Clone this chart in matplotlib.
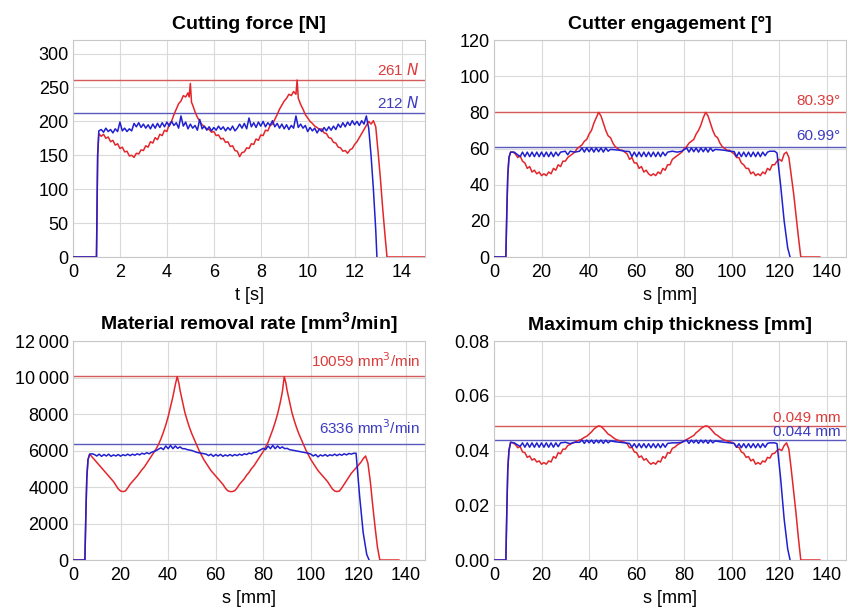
import matplotlib
matplotlib.use("Agg")
import matplotlib.pyplot as plt

plt.rcParams['font.family'] = ['Liberation Sans', 'DejaVu Sans']

# ---- Cutting force [N] over t [s] ----
force_red = [(0, 0), (1.0, 0), (1.05, 150), (1.1, 182), (1.2, 178), (1.3, 181), (1.4, 175), (1.5, 177), (1.6, 170),
             (1.7, 172), (1.8, 165), (1.9, 167), (2.0, 160), (2.1, 162), (2.2, 155), (2.3, 156), (2.4, 149), (2.5, 150),
             (2.6, 147), (2.7, 153), (2.8, 152), (2.9, 158), (3.0, 157), (3.1, 164), (3.2, 162), (3.3, 170), (3.4, 168),
             (3.5, 176), (3.6, 173), (3.7, 181), (3.8, 179), (3.9, 187), (4.0, 185), (4.1, 196), (4.2, 200), (4.3, 210),
             (4.4, 218), (4.5, 226), (4.6, 230), (4.7, 238), (4.8, 236), (4.9, 242), (4.95, 236), (5.0, 256), (5.05, 228),
             (5.1, 224), (5.2, 214), (5.3, 206), (5.4, 200), (5.5, 195), (5.6, 192), (5.7, 189), (5.8, 188), (5.9, 184),
             (6.0, 185), (6.1, 179), (6.2, 180), (6.3, 174), (6.4, 175), (6.5, 169), (6.6, 170), (6.7, 163), (6.8, 164),
             (6.9, 157), (7.0, 156), (7.1, 148), (7.2, 154), (7.3, 155), (7.4, 161), (7.5, 160), (7.6, 167), (7.7, 166),
             (7.8, 174), (7.9, 172), (8.0, 180), (8.1, 179), (8.2, 187), (8.3, 186), (8.4, 194), (8.5, 196), (8.6, 203),
             (8.7, 210), (8.8, 218), (8.9, 224), (9.0, 230), (9.1, 234), (9.2, 240), (9.3, 238), (9.4, 244), (9.5, 240),
             (9.55, 261), (9.6, 234), (9.7, 225), (9.8, 218), (9.9, 210), (10.0, 205), (10.1, 200), (10.2, 197),
             (10.3, 193), (10.4, 191), (10.5, 188), (10.6, 189), (10.7, 183), (10.8, 182), (10.9, 176), (11.0, 175),
             (11.1, 169), (11.2, 168), (11.3, 162), (11.4, 161), (11.5, 156), (11.6, 157), (11.7, 153), (11.8, 158),
             (11.9, 160), (12.0, 166), (12.1, 170), (12.2, 176), (12.3, 182), (12.4, 188), (12.5, 194), (12.6, 200),
             (12.7, 196), (12.8, 201), (12.9, 192), (13.0, 155), (13.1, 115), (13.2, 70), (13.3, 30), (13.38, 0), (15, 0)]
force_blue = [(0, 0), (1.0, 0), (1.05, 150), (1.1, 186), (1.2, 188), (1.3, 184), (1.4, 190), (1.5, 185), (1.6, 188),
              (1.7, 183), (1.8, 189), (1.9, 185), (2.0, 199), (2.1, 186), (2.2, 190), (2.3, 185), (2.4, 189), (2.5, 186),
              (2.6, 197), (2.7, 192), (2.8, 198), (2.9, 191), (3.0, 196), (3.1, 190), (3.2, 195), (3.3, 189), (3.4, 196),
              (3.5, 190), (3.6, 197), (3.7, 191), (3.8, 198), (3.9, 192), (4.0, 199), (4.1, 193), (4.2, 200), (4.3, 194),
              (4.4, 198), (4.5, 190), (4.6, 208), (4.7, 193), (4.8, 199), (4.9, 189), (5.0, 196), (5.1, 190), (5.2, 194),
              (5.3, 187), (5.4, 203), (5.5, 189), (5.6, 193), (5.7, 187), (5.8, 192), (5.9, 186), (6.0, 191), (6.1, 187),
              (6.2, 193), (6.3, 188), (6.4, 192), (6.5, 186), (6.6, 191), (6.7, 187), (6.8, 193), (6.9, 186), (7.0, 190),
              (7.1, 196), (7.2, 190), (7.3, 197), (7.4, 189), (7.5, 205), (7.6, 192), (7.7, 198), (7.8, 191), (7.9, 199),
              (8.0, 193), (8.1, 200), (8.2, 192), (8.3, 198), (8.4, 194), (8.5, 201), (8.6, 192), (8.7, 197), (8.8, 190),
              (8.9, 196), (9.0, 189), (9.1, 195), (9.2, 188), (9.3, 194), (9.4, 190), (9.5, 208), (9.6, 191), (9.7, 196),
              (9.8, 190), (9.9, 194), (10.0, 185), (10.1, 191), (10.2, 186), (10.3, 190), (10.4, 183), (10.5, 189),
              (10.6, 185), (10.7, 191), (10.8, 186), (10.9, 192), (11.0, 187), (11.1, 193), (11.2, 188), (11.3, 196),
              (11.4, 191), (11.5, 198), (11.6, 192), (11.7, 199), (11.8, 194), (11.9, 201), (12.0, 195), (12.1, 200),
              (12.2, 194), (12.3, 201), (12.4, 196), (12.5, 208), (12.55, 198), (12.6, 190), (12.7, 150), (12.8, 100),
              (12.9, 40), (12.95, 0)]

# ---- Cutter engagement [deg] over s [mm] ----
engage_red = [(0, 0), (5, 0), (5.4, 25), (5.8, 45), (6.3, 55), (7, 58), (8, 58), (9, 57), (10, 55), (11, 56), (12, 53),
              (13, 52), (14, 49), (15, 50), (16, 47), (17, 48), (18, 46), (19, 47), (20, 45), (21, 46), (22, 45),
              (23, 47), (24, 46), (25, 49), (26, 48), (27, 51), (28, 50), (29, 53), (30, 53), (31, 55), (32, 56),
              (33, 57), (34, 58), (35, 60), (36, 61), (37, 62), (38, 64), (39, 65), (40, 68), (41, 70), (42, 74),
              (43, 77), (44, 80), (45, 78), (46, 74), (47, 70), (48, 67), (49, 66), (50, 63), (51, 61), (52, 60),
              (53, 59), (54, 59), (55, 58), (56, 57), (57, 54), (58, 55), (59, 52), (60, 52), (61, 49), (62, 50),
              (63, 47), (64, 48), (65, 46), (66, 45), (67, 46), (68, 45), (69, 47), (70, 46), (71, 49), (72, 48),
              (73, 51), (74, 51), (75, 54), (76, 55), (77, 56), (78, 57), (79, 58), (80, 60), (81, 61), (82, 63),
              (83, 64), (84, 65), (85, 68), (86, 70), (87, 73), (88, 77), (89, 80), (90, 78), (91, 74), (92, 70),
              (93, 67), (94, 66), (95, 63), (96, 61), (97, 60), (98, 59), (99, 59), (100, 58), (101, 57), (102, 55),
              (103, 55), (104, 52), (105, 51), (106, 49), (107, 49), (108, 46), (109, 47), (110, 45), (111, 46),
              (112, 45), (113, 47), (114, 46), (115, 49), (116, 48), (117, 51), (118, 51), (119, 53), (120, 54),
              (121, 53), (122, 57), (123, 58), (124, 55), (125, 45), (126, 35), (127, 23), (128, 11), (129, 0), (137, 0)]
engage_blue = [(0, 0), (5, 0), (5.4, 25), (5.8, 45), (6.3, 55), (7, 58), (8.5, 58), (10, 56.5), (11, 55.5), (12, 58),
               (13, 55.5), (14, 58), (15, 55.5), (16, 58), (17, 55.5), (18, 58), (19, 55.5), (20, 58), (21, 55.5),
               (22, 58), (23, 55.5), (24, 58), (25, 55.5), (26, 58), (27, 56), (28, 58), (30, 58.5), (31, 56.5),
               (32, 58.5), (34, 58), (36, 58.5), (37, 60.3), (38, 58), (39, 60.3), (40, 58.2), (41, 60.3), (42, 58),
               (43, 60.3), (44, 58.2), (45, 60.3), (46, 58), (47, 60.3), (48, 58.5), (49, 59.5), (51, 59.3),
               (53, 59), (55, 58.5), (57, 58.3), (58, 55.5), (59, 58), (60, 55.5), (61, 58), (62, 55.5), (63, 58),
               (64, 55.5), (65, 58), (66, 55.5), (67, 58), (68, 55.5), (69, 58), (70, 55.5), (71, 58), (72, 56),
               (73, 58), (75, 58.5), (77, 58), (79, 58.5), (81, 60.3), (82, 58), (83, 60.3), (84, 58.2), (85, 60.3),
               (86, 58), (87, 60.3), (88, 58.2), (89, 60.3), (90, 58), (91, 60.3), (92, 58.5), (93, 59.5),
               (95, 59.3), (97, 59), (99, 58.5), (101, 58.3), (102, 55.5), (103, 58), (104, 55.5), (105, 58),
               (106, 55.5), (107, 58), (108, 55.5), (109, 58), (110, 55.5), (111, 58), (112, 55.5), (113, 58),
               (114, 56), (115, 58), (116, 58.5), (118, 58.5), (119, 57.5), (120.5, 40), (122, 20), (123.5, 5),
               (124.5, 0)]

# ---- Material removal rate [mm3/min] over s [mm] ----
mrr_red = [(0, 0), (5, 0), (5.4, 2500), (5.8, 4500), (6.3, 5500), (7, 5800), (8, 5650), (9, 5500), (10, 5350),
           (11, 5200), (12, 5050), (13, 4900), (14, 4750), (15, 4600), (16, 4450), (17, 4300), (18, 4100), (19, 3900),
           (20, 3780), (21, 3750), (22, 3780), (23, 3950), (24, 4150), (25, 4300), (26, 4450), (27, 4600), (28, 4780),
           (29, 4950), (30, 5100), (31, 5300), (32, 5500), (33, 5700), (34, 5900), (35, 6100), (36, 6350), (37, 6650),
           (38, 7000), (39, 7400), (40, 7850), (41, 8400), (42, 8950), (43, 9600), (43.8, 10050), (44.5, 9700),
           (45, 9300), (46, 8700), (47, 8100), (48, 7650), (49, 7250), (50, 6900), (51, 6600), (52, 6300), (53, 6000),
           (54, 5750), (55, 5500), (56, 5300), (57, 5100), (58, 4900), (59, 4750), (60, 4600), (61, 4450), (62, 4300),
           (63, 4150), (64, 3950), (65, 3800), (66, 3750), (67, 3750), (68, 3800), (69, 3950), (70, 4150), (71, 4300),
           (72, 4450), (73, 4650), (74, 4800), (75, 5000), (76, 5150), (77, 5350), (78, 5550), (79, 5750), (80, 5950),
           (81, 6200), (82, 6450), (83, 6800), (84, 7150), (85, 7550), (86, 8000), (87, 8550), (88, 9200),
           (88.8, 10050), (89.5, 9700), (90, 9300), (91, 8700), (92, 8100), (93, 7650), (94, 7250), (95, 6900),
           (96, 6600), (97, 6300), (98, 6000), (99, 5750), (100, 5500), (101, 5300), (102, 5100), (103, 4900),
           (104, 4750), (105, 4600), (106, 4450), (107, 4300), (108, 4100), (109, 3900), (110, 3780), (111, 3750),
           (112, 3780), (113, 3950), (114, 4150), (115, 4350), (116, 4550), (117, 4750), (118, 4900), (119, 5050),
           (120, 5200), (121, 5350), (122, 5550), (123, 5700), (124, 5300), (125, 4300), (126, 3000), (127, 1800),
           (128, 700), (129, 0), (137, 0)]
mrr_blue = [(0, 0), (5, 0), (5.4, 2500), (5.8, 4500), (6.3, 5500), (7, 5800), (8, 5820), (9, 5780), (10, 5700),
            (11, 5800), (12, 5680), (13, 5780), (14, 5700), (15, 5800), (16, 5680), (17, 5760), (18, 5700), (19, 5780),
            (20, 5690), (21, 5770), (22, 5720), (23, 5800), (24, 5720), (25, 5800), (26, 5740), (27, 5820), (28, 5760),
            (29, 5850), (30, 5800), (31, 5880), (32, 5820), (33, 5900), (34, 5950), (35, 6000), (36, 6080), (37, 6150),
            (38, 6050), (39, 6250), (40, 6100), (41, 6280), (42, 6100), (43, 6250), (44, 6120), (45, 6200), (46, 6100),
            (47, 6100), (48, 6050), (50, 6000), (52, 5900), (54, 5850), (56, 5800), (57, 5720), (58, 5800), (59, 5680),
            (60, 5780), (61, 5700), (62, 5790), (63, 5680), (64, 5760), (65, 5700), (66, 5780), (67, 5700), (68, 5780),
            (69, 5720), (70, 5800), (71, 5740), (72, 5820), (73, 5780), (74, 5860), (75, 5820), (76, 5900), (77, 5900),
            (78, 5980), (79, 6050), (80, 6120), (81, 6050), (82, 6250), (83, 6100), (84, 6280), (85, 6100), (86, 6250),
            (87, 6120), (88, 6200), (89, 6100), (90, 6120), (91, 6050), (93, 6000), (95, 5950), (97, 5900), (99, 5850),
            (100, 5800), (101, 5700), (102, 5780), (103, 5650), (104, 5760), (105, 5700), (106, 5780), (107, 5690),
            (108, 5770), (109, 5720), (110, 5800), (111, 5720), (112, 5800), (113, 5740), (114, 5820), (115, 5760),
            (116, 5840), (117, 5800), (118, 5850), (119, 5850), (120.5, 3500), (122, 1500), (123.5, 300), (124.5, 0)]

# ---- Maximum chip thickness [mm] over s [mm] ----
chip_red = [(0, 0), (5, 0), (5.4, 0.018), (5.8, 0.033), (6.3, 0.040), (7, 0.043), (8, 0.0428), (9, 0.0422),
            (10, 0.0410), (11, 0.0415), (12, 0.0395), (13, 0.0392), (14, 0.0375), (15, 0.0380), (16, 0.0365),
            (17, 0.0370), (18, 0.0358), (19, 0.0362), (20, 0.0350), (21, 0.0356), (22, 0.0350), (23, 0.0362),
            (24, 0.0358), (25, 0.0378), (26, 0.0372), (27, 0.0392), (28, 0.0388), (29, 0.0405), (30, 0.0405),
            (31, 0.0418), (32, 0.0422), (33, 0.0428), (34, 0.0430), (35, 0.0435), (36, 0.0438), (37, 0.0442),
            (38, 0.0448), (39, 0.0452), (40, 0.0460), (41, 0.0468), (42, 0.0478), (43, 0.0485), (44, 0.0490),
            (45, 0.0488), (46, 0.0480), (47, 0.0470), (48, 0.0460), (49, 0.0455), (50, 0.0448), (51, 0.0442),
            (52, 0.0438), (53, 0.0435), (54, 0.0432), (55, 0.0430), (56, 0.0425), (57, 0.0410), (58, 0.0412),
            (59, 0.0395), (60, 0.0392), (61, 0.0375), (62, 0.0380), (63, 0.0365), (64, 0.0370), (65, 0.0358),
            (66, 0.0350), (67, 0.0356), (68, 0.0350), (69, 0.0362), (70, 0.0358), (71, 0.0378), (72, 0.0372),
            (73, 0.0392), (74, 0.0390), (75, 0.0408), (76, 0.0412), (77, 0.0420), (78, 0.0425), (79, 0.0430),
            (80, 0.0435), (81, 0.0440), (82, 0.0445), (83, 0.0450), (84, 0.0455), (85, 0.0465), (86, 0.0472),
            (87, 0.0480), (88, 0.0486), (89, 0.0490), (90, 0.0488), (91, 0.0480), (92, 0.0470), (93, 0.0460),
            (94, 0.0455), (95, 0.0448), (96, 0.0442), (97, 0.0438), (98, 0.0435), (99, 0.0432), (100, 0.0430),
            (101, 0.0425), (102, 0.0412), (103, 0.0412), (104, 0.0395), (105, 0.0390), (106, 0.0375), (107, 0.0378),
            (108, 0.0362), (109, 0.0368), (110, 0.0350), (111, 0.0356), (112, 0.0350), (113, 0.0362), (114, 0.0358),
            (115, 0.0375), (116, 0.0372), (117, 0.0388), (118, 0.0390), (119, 0.0400), (120, 0.0405), (121, 0.0400),
            (122, 0.0418), (123, 0.0428), (124, 0.0405), (125, 0.0330), (126, 0.0250), (127, 0.0170), (128, 0.0080),
            (129, 0), (137, 0)]
chip_blue = [(0, 0), (5, 0), (5.4, 0.018), (5.8, 0.033), (6.3, 0.040), (7, 0.043), (8.5, 0.0428), (10, 0.0420),
             (11, 0.0415), (12, 0.0428), (13, 0.0412), (14, 0.0428), (15, 0.0412), (16, 0.0428), (17, 0.0412),
             (18, 0.0428), (19, 0.0412), (20, 0.0428), (21, 0.0412), (22, 0.0428), (23, 0.0412), (24, 0.0428),
             (25, 0.0412), (26, 0.0428), (27, 0.0414), (28, 0.0428), (30, 0.0430), (32, 0.0425), (34, 0.0430),
             (36, 0.0430), (37, 0.0438), (38, 0.0426), (39, 0.0438), (40, 0.0428), (41, 0.0438), (42, 0.0426),
             (43, 0.0438), (44, 0.0428), (45, 0.0438), (46, 0.0426), (47, 0.0438), (48, 0.0428), (49, 0.0435),
             (51, 0.0432), (53, 0.0430), (55, 0.0428), (57, 0.0426), (58, 0.0412), (59, 0.0425), (60, 0.0410),
             (61, 0.0425), (62, 0.0410), (63, 0.0425), (64, 0.0410), (65, 0.0425), (66, 0.0410), (67, 0.0425),
             (68, 0.0410), (69, 0.0425), (70, 0.0410), (71, 0.0425), (72, 0.0412), (73, 0.0426), (75, 0.0428),
             (77, 0.0428), (79, 0.0430), (81, 0.0438), (82, 0.0426), (83, 0.0438), (84, 0.0428), (85, 0.0438),
             (86, 0.0426), (87, 0.0438), (88, 0.0428), (89, 0.0438), (90, 0.0426), (91, 0.0438), (92, 0.0428),
             (93, 0.0435), (95, 0.0432), (97, 0.0430), (99, 0.0428), (101, 0.0426), (102, 0.0412), (103, 0.0425),
             (104, 0.0410), (105, 0.0425), (106, 0.0410), (107, 0.0425), (108, 0.0410), (109, 0.0425), (110, 0.0410),
             (111, 0.0425), (112, 0.0410), (113, 0.0425), (114, 0.0412), (115, 0.0426), (116, 0.0428), (118, 0.0428),
             (119, 0.0425), (120.5, 0.030), (122, 0.015), (123.5, 0.004), (124.5, 0)]

# max values (reference lines) and their labels
max_red = [261, 80.39, 10059, 0.049]
max_blue = [212, 60.99, 6336, 0.044]
max_red_labels = ['261 $\\it{N}$', '80.39°', '10059 mm$^3$/min', '0.049 mm']
max_blue_labels = ['212 $\\it{N}$', '60.99°', '6336 mm$^3$/min', '0.044 mm']
label_offset = [3, 2, 380, 0.0002]
label_offset_blue = [3, 2, 380, 0.0001]

titles = ['Cutting force [N]', 'Cutter engagement [°]',
          'Material removal rate [mm$^\\mathregular{3}$/min]', 'Maximum chip thickness [mm]']
xlabels = ['t [s]', 's [mm]', 's [mm]', 's [mm]']
xticks = [[0, 2, 4, 6, 8, 10, 12, 14], [0, 20, 40, 60, 80, 100, 120, 140],
          [0, 20, 40, 60, 80, 100, 120, 140], [0, 20, 40, 60, 80, 100, 120, 140]]
xlims = [15, 148, 148, 148]
yticks = [[0, 50, 100, 150, 200, 250, 300], [0, 20, 40, 60, 80, 100, 120],
          [0, 2000, 4000, 6000, 8000, 10000, 12000], [0, 0.02, 0.04, 0.06, 0.08]]
yticklabels = [['0', '50', '100', '150', '200', '250', '300'], ['0', '20', '40', '60', '80', '100', '120'],
               ['0', '2000', '4000', '6000', '8000', '10\u2009000', '12\u2009000'],
               ['0.00', '0.02', '0.04', '0.06', '0.08']]
ylims = [320, 120, 12000, 0.08]

series = [(force_red, force_blue), (engage_red, engage_blue), (mrr_red, mrr_blue), (chip_red, chip_blue)]

RED = '#e3262b'
BLUE = '#2020d0'
RED_TXT = '#dc3c3c'
BLUE_TXT = '#3c3cc0'

fig = plt.figure(figsize=(8.47, 6.07), dpi=100)
positions = [[0.0862, 0.5766, 0.4156, 0.3575], [0.5832, 0.5766, 0.4156, 0.3575],
             [0.0862, 0.0774, 0.4156, 0.3608], [0.5832, 0.0774, 0.4156, 0.3608]]

for i in range(4):
    ax = fig.add_axes(positions[i])
    red, blue = series[i]
    xr, yr = zip(*red)
    xb, yb = zip(*blue)
    ax.plot(xr, yr, color=RED, lw=1.1, zorder=3)
    ax.plot(xb, yb, color=BLUE, lw=1.1, zorder=4)
    ax.axhline(max_red[i], color='#d65a5a', lw=1.0, zorder=2)
    ax.axhline(max_blue[i], color='#5a5abe', lw=1.0, zorder=2)
    xr_txt = xlims[i] * 0.985
    ax.text(xr_txt, max_red[i] + label_offset[i], max_red_labels[i], color=RED_TXT,
            ha='right', va='bottom', fontsize=11)
    ax.text(xr_txt, max_blue[i] + label_offset_blue[i], max_blue_labels[i], color=BLUE_TXT,
            ha='right', va='bottom', fontsize=11)

    ax.set_xlim(0, xlims[i])
    ax.set_ylim(0, ylims[i])
    ax.set_xticks(xticks[i])
    ax.set_yticks(yticks[i])
    ax.set_yticklabels(yticklabels[i])
    ax.tick_params(length=0, labelsize=13)
    ax.tick_params(axis='x', pad=5)
    ax.tick_params(axis='y', pad=3)
    ax.grid(True, color='#dadada', lw=0.8, zorder=0)
    for sp in ax.spines.values():
        sp.set_color('#c8c8c8')
        sp.set_linewidth(0.8)
    ax.set_title(titles[i], fontsize=14, fontweight='bold', pad=8)
    ax.set_xlabel(xlabels[i], fontsize=13, labelpad=4)

fig.savefig('out.png', dpi=100)
